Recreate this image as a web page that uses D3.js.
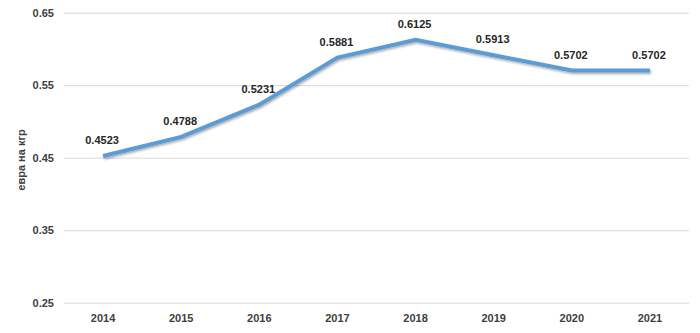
<!DOCTYPE html>
<html><head><meta charset="utf-8">
<script src="https://cdn.jsdelivr.net/npm/d3@7"></script>
<style>body{margin:0;background:#fff}svg{display:block}</style>
</head><body>
<script>
const years = ["2014","2015","2016","2017","2018","2019","2020","2021"];
const prices = [0.4523,0.4788,0.5231,0.5881,0.6125,0.5913,0.5702,0.5702];
const yTicks = [0.25,0.35,0.45,0.55,0.65];
const yTitle = "евра на кгр";

const W=700,H=333;
const svg=d3.select("body").append("svg").attr("width",W).attr("height",H);
const font="'Liberation Sans', Arial, sans-serif";
const x=d3.scaleBand().domain(years).range([64,689]);
const y=d3.scaleLinear().domain([0.25,0.65]).range([302.7,12.7]);

const defs=svg.append("defs");
const f=defs.append("filter").attr("id","sh").attr("x","-10%").attr("y","-10%").attr("width","120%").attr("height","140%");
f.append("feDropShadow").attr("dx",1).attr("dy",1.5).attr("stdDeviation",1).attr("flood-color","#000").attr("flood-opacity",0.35);

const yAxis=d3.axisLeft(y).tickValues(yTicks).tickFormat(d3.format(".2f")).tickSize(-(689-64)).tickPadding(10);
const gy=svg.append("g").attr("transform","translate(64,0)").call(yAxis);
gy.select(".domain").remove();
gy.selectAll("line").attr("stroke","#d9d9d9").attr("stroke-width",1);
gy.selectAll("text").attr("font-family",font).attr("font-size",11).attr("font-weight","bold").attr("fill","#404040");

const xAxis=d3.axisBottom(x).tickSize(0).tickPadding(12);
const gx=svg.append("g").attr("transform","translate(0,302.7)").call(xAxis);
gx.select(".domain").remove();
gx.selectAll("text").attr("font-family",font).attr("font-size",11).attr("font-weight","bold").attr("fill","#404040");

svg.append("text").attr("transform","translate(25,160) rotate(-90)").attr("text-anchor","middle")
  .attr("font-family",font).attr("font-size",11).attr("font-weight","bold").attr("fill","#404040").text(yTitle);

const line=d3.line().x((d,i)=>x(years[i])+x.bandwidth()/2).y(d=>y(d));
svg.append("path").datum(prices).attr("d",line).attr("fill","none").attr("stroke","#5b9bd5")
  .attr("stroke-width",4).attr("stroke-linejoin","miter").attr("filter","url(#sh)");

svg.append("g").selectAll("text").data(prices).join("text")
  .attr("x",(d,i)=>x(years[i])+x.bandwidth()/2-1).attr("y",d=>y(d)-12)
  .attr("text-anchor","middle").attr("font-family",font).attr("font-size",11).attr("font-weight","bold").attr("fill","#262626")
  .text(d=>d.toFixed(4));
</script>
</body></html>
